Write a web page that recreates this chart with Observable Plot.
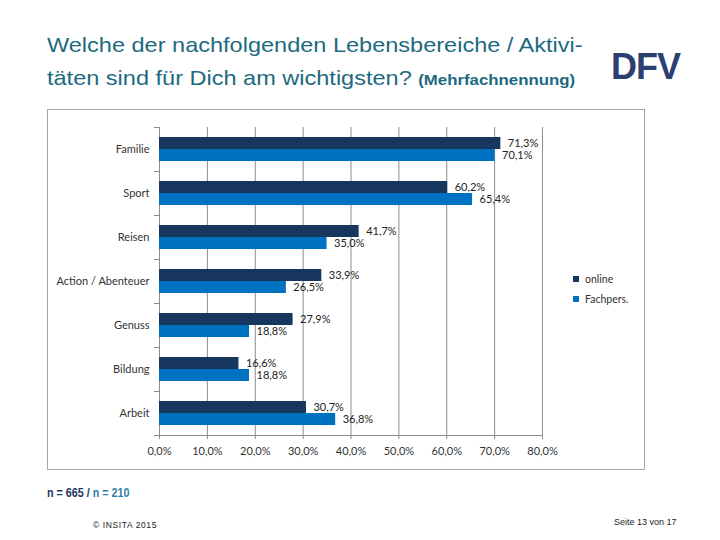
<!DOCTYPE html>
<html>
<head>
<meta charset="utf-8">
<script src="https://cdn.jsdelivr.net/npm/d3@7"></script>
<script src="https://cdn.jsdelivr.net/npm/@observablehq/plot@0.6"></script>
<style>
  html, body { margin: 0; padding: 0; background: #fff; }
  #page { position: relative; width: 720px; height: 540px; overflow: hidden; font-family: "Liberation Sans", Arial, sans-serif; }
  #title { position: absolute; left: 47px; top: 28px; font-size: 21px; line-height: 33px; color: #1d6a80; white-space: nowrap; transform: scaleX(1.12); transform-origin: 0 0; }
  #title .small { font-size: 15px; font-weight: bold; }
  #logo { position: absolute; left: 611px; top: 46px; font-size: 36px; font-weight: bold; color: #2b3f72; letter-spacing: -1px; }
  #chart { position: absolute; left: 47px; top: 109px; width: 596px; height: 359px; border: 1px solid #a6a6a6; }
  #legend { position: absolute; left: 573px; top: 269px; font-family: Lato, sans-serif; font-size: 10.5px; color: #333; }
  #legend div { height: 20px; display: flex; align-items: center; }
  #legend span.sw { display: inline-block; width: 6px; height: 6px; margin-right: 6px; }
  #nnote { position: absolute; left: 47px; top: 486px; font-size: 12.5px; font-weight: bold; color: #1f3864; white-space: nowrap; transform: scaleX(0.86); transform-origin: 0 0; }
  #nnote .b { color: #2f7fa6; }
  #copy { position: absolute; left: 93px; top: 520px; font-size: 8.5px; color: #222; letter-spacing: 0.6px; }
  #pageno { position: absolute; left: 614px; top: 517px; font-size: 9px; color: #222; }
</style>
</head>
<body>
<div id="page">
  <div id="title">Welche der nachfolgenden Lebensbereiche / Aktivi-<br>täten sind für Dich am wichtigsten? <span class="small">(Mehrfachnennung)</span></div>
  <div id="logo">DFV</div>
  <div id="chart"></div>
  <div id="legend"></div>
  <div id="nnote">n = 665 / <span class="b">n = 210</span></div>
  <div id="copy">© INSITA 2015</div>
  <div id="pageno">Seite 13 von 17</div>
</div>
<script>
const categories = ["Familie", "Sport", "Reisen", "Action / Abenteuer", "Genuss", "Bildung", "Arbeit"];
const seriesNames = ["online", "Fachpers."];
const onlineValues = [71.3, 60.2, 41.7, 33.9, 27.9, 16.6, 30.7];
const fachpersValues = [70.1, 65.4, 35.0, 26.5, 18.8, 18.8, 36.8];
const xTicks = [0, 10, 20, 30, 40, 50, 60, 70, 80];
const colors = ["#17375e", "#0070c0"];

const GRID = "#8c8c8c";
const fmt = v => v.toFixed(1).replace(".", ",") + "%";

const rows = [];
categories.forEach((c, i) => {
  rows.push({cat: c, series: seriesNames[0], value: onlineValues[i]});
  rows.push({cat: c, series: seriesNames[1], value: fachpersValues[i]});
});

function boundaryTicks(index, scales, values, dimensions) {
  const {marginLeft, marginTop, height, marginBottom} = dimensions;
  const g = d3.create("svg:g").attr("stroke", GRID).attr("stroke-width", 1);
  g.append("line").attr("x1", marginLeft - 5).attr("x2", marginLeft)
    .attr("y1", marginTop + 0.5).attr("y2", marginTop + 0.5);
  g.append("line").attr("x1", marginLeft - 5).attr("x2", marginLeft)
    .attr("y1", height - marginBottom + 0.5).attr("y2", height - marginBottom + 0.5);
  return g.node();
}

const chart = Plot.plot({
  width: 596,
  height: 359,
  marginLeft: 111,
  marginRight: 102,
  marginTop: 14,
  marginBottom: 31,
  style: {fontFamily: "Lato, sans-serif", fontSize: "11px", color: "#333", background: "transparent"},
  x: {domain: [0, 80], label: null},
  y: {domain: seriesNames, paddingInner: 0, paddingOuter: 0.72, axis: null},
  fy: {domain: categories, padding: 0, label: null},
  color: {domain: seriesNames, range: colors},
  marks: [
    Plot.gridX(xTicks, {stroke: GRID, strokeOpacity: 1}),
    Plot.barX(rows, {fy: "cat", y: "series", x: "value", fill: "series"}),
    Plot.text(rows, {fy: "cat", y: "series", x: "value", text: d => fmt(d.value), textAnchor: "start", dx: 7, fill: "#222"}),
    boundaryTicks,
    Plot.frame({anchor: "bottom", facet: "super", stroke: GRID, strokeOpacity: 1}),
    Plot.axisX({ticks: xTicks, tickFormat: v => v.toFixed(1).replace(".", ",") + "%", tickSize: 4, tickPadding: 8, stroke: GRID, label: null}),
    Plot.axisFy({anchor: "left", tickSize: 0, tickPadding: 10, label: null})
  ]
});
document.getElementById("chart").appendChild(chart);

const legend = document.getElementById("legend");
seriesNames.forEach((s, i) => {
  const row = document.createElement("div");
  const sw = document.createElement("span");
  sw.className = "sw";
  sw.style.background = colors[i];
  row.appendChild(sw);
  row.appendChild(document.createTextNode(s));
  legend.appendChild(row);
});
</script>
</body>
</html>
